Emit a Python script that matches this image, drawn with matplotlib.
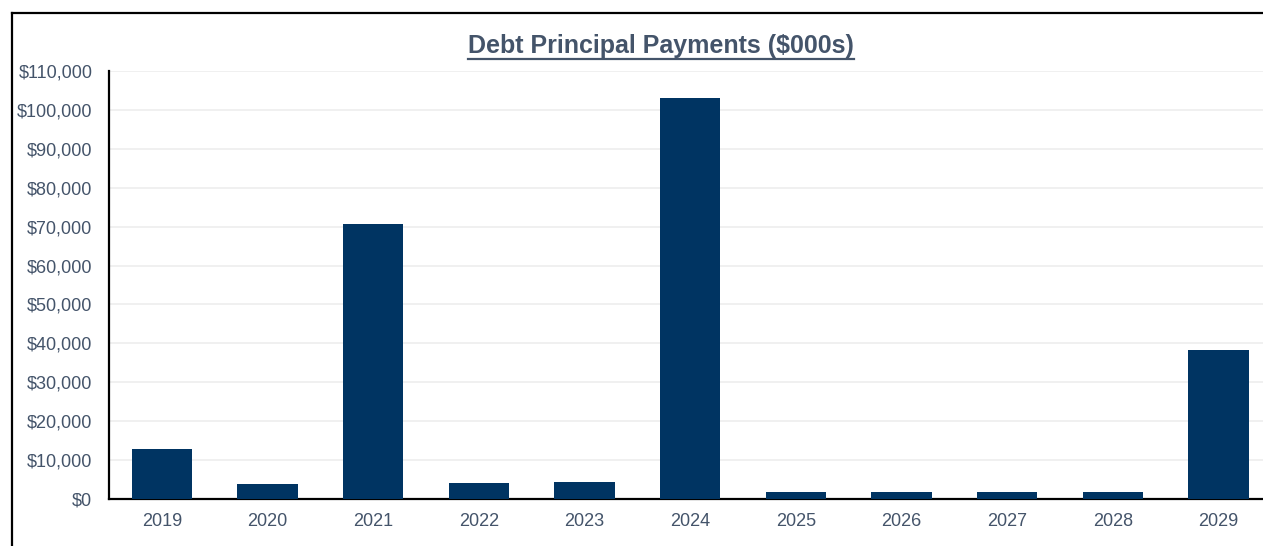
import matplotlib.pyplot as plt
from matplotlib.lines import Line2D
from matplotlib.ticker import FuncFormatter

YEARS = ["2019", "2020", "2021", "2022", "2023", "2024", "2025", "2026", "2027", "2028", "2029"]
PAYMENTS = [12800, 3900, 70700, 4100, 4400, 103000, 1700, 1700, 1800, 1900, 38400]
Y_TICKS = list(range(0, 110001, 10000))

BAR_COLOR = "#003462"
TEXT_COLOR = "#44546A"
GRID_COLOR = "#EFEFEF"

plt.rcParams["font.family"] = ["Liberation Sans", "DejaVu Sans"]

W, H = 1263, 546
fig = plt.figure(figsize=(W / 100, H / 100), dpi=100)

ax = fig.add_axes([109 / W, 47 / H, 1 - 109 / W, (499 - 71) / H])
x = list(range(len(YEARS)))
ax.bar(x, PAYMENTS, width=0.57, color=BAR_COLOR, zorder=3)

ax.set_xlim(-0.5, 10.42)
ax.set_ylim(0, 110000)
ax.set_yticks(Y_TICKS)
ax.yaxis.set_major_formatter(FuncFormatter(lambda v, _: f"${v:,.0f}"))
ax.set_xticks(x)
ax.set_xticklabels(YEARS)
ax.tick_params(axis="both", length=0, labelsize=13, colors=TEXT_COLOR)
ax.tick_params(axis="x", pad=10)
ax.tick_params(axis="y", pad=12)
ax.grid(True, axis="y", color=GRID_COLOR, linewidth=1.3, zorder=0)

for side in ["top", "right"]:
	ax.spines[side].set_visible(False)
ax.spines["left"].set_linewidth(1.6)
ax.spines["bottom"].set_linewidth(1.6)

title = fig.text(661 / W, 1 - 46 / H, "Debt Principal Payments ($000s)",
	ha="center", va="center", fontsize=18, fontweight="bold", color=TEXT_COLOR)

# underline under the title
fig.canvas.draw()
bb = title.get_window_extent()
uy = (bb.y0 - 1) / H
fig.add_artist(Line2D([bb.x0 / W, bb.x1 / W], [uy, uy], transform=fig.transFigure,
	color=TEXT_COLOR, linewidth=1.6))

# outer box: top and left edges only
fig.add_artist(Line2D([12 / W, 1.0], [1 - 13 / H, 1 - 13 / H], transform=fig.transFigure,
	color="black", linewidth=1.6))
fig.add_artist(Line2D([12 / W, 12 / W], [0, 1 - 13 / H], transform=fig.transFigure,
	color="black", linewidth=1.6))

fig.savefig("out.png", dpi=100)
